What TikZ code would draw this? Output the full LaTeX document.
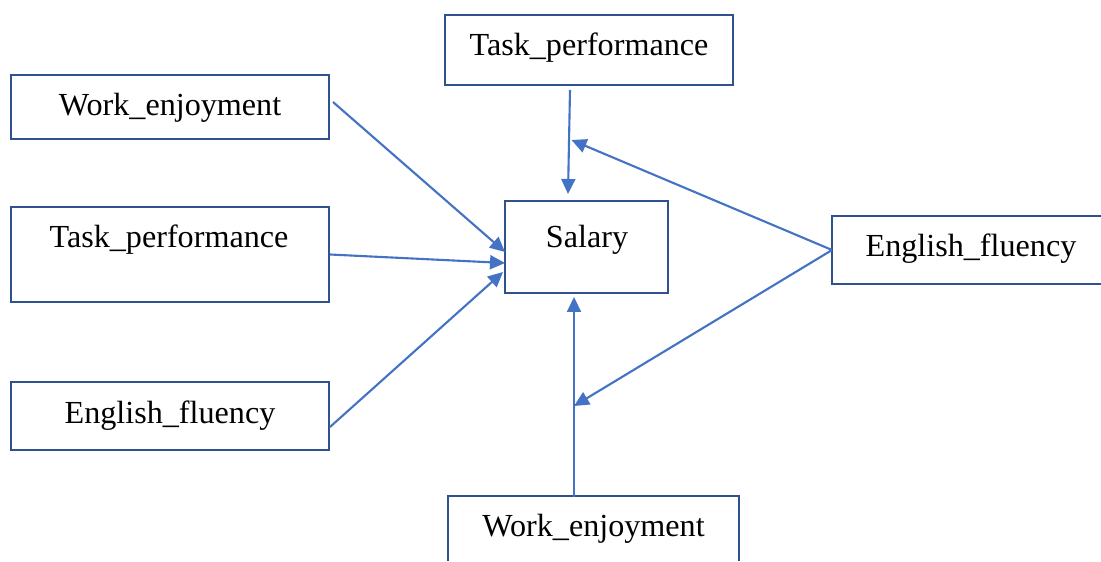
\documentclass[tikz,border=0pt]{standalone}
\usepackage{fontspec}
\setmainfont{Liberation Serif}
\usetikzlibrary{calc,arrows.meta}
\definecolor{boxblue}{HTML}{2F528F}
\definecolor{arrblue}{HTML}{4472C4}
\tikzset{
  varbox/.style={draw=boxblue, line width=1.5pt, rectangle, inner sep=0pt, outer sep=0pt, fill=none},
  cutbox/.style={draw=none, rectangle, inner sep=0pt, outer sep=0pt},
  boxline/.style={draw=boxblue, line width=1.5pt, line join=miter},
  lbl/.style={anchor=base, inner sep=0pt, font=\fontsize{18.3}{21}\selectfont},
  arr/.style={draw=arrblue, line width=1.2pt, -{Triangle[length=0.3cm,width=0.28cm]}},
}
\begin{document}
\begin{tikzpicture}[x=0.02cm,y=-0.02cm]
\useasboundingbox (0,0) rectangle (1101,561);
\clip (0,0) rectangle (1101,561);
\fill[white] (0,0) rectangle (1101,561);
% boxes
\node[varbox, minimum width=6.36cm, minimum height=1.28cm] (wl) at (170,107) {};
\node[varbox, minimum width=6.36cm, minimum height=1.9cm] (tl) at (170,254.5) {};
\node[varbox, minimum width=6.36cm, minimum height=1.36cm] (el) at (170,416) {};
\node[varbox, minimum width=3.26cm, minimum height=1.84cm] (sal) at (586.5,247) {};
\node[varbox, minimum width=5.76cm, minimum height=1.4cm] (tt) at (589,50) {};
% boxes cut by the picture's edge (open side)
\node[cutbox, minimum width=5.38cm, minimum height=1.36cm] (er) at (966.5,250) {};
\draw[boxline] (er.north east) -- (er.north west) -- (er.south west) -- (er.south east);
\node[cutbox, minimum width=5.82cm, minimum height=1.3cm] (wb) at (593.5,528.5) {};
\draw[boxline] (wb.south west) -- (wb.north west) -- (wb.north east) -- (wb.south east);
% labels
\node[lbl] (wlt) at (170,115) {Work\_enjoyment};
\node[lbl] (tlt) at (169,247) {Task\_performance};
\node[lbl] (elt) at (170,423) {English\_fluency};
\node[lbl] (salt) at (587,247) {Salary};
\node[lbl] (ttt) at (589,55) {Task\_performance};
\node[lbl] (ert) at (971,256) {English\_fluency};
\node[lbl] (wbt) at (593.5,536) {Work\_enjoyment};
% junction points
\coordinate (jt) at (571.5,140);
\coordinate (jb) at (574,406);
% connectors
\draw[arr] ($(wl.east)+(4,-5)$) -- ($(sal.west)+(0,5)$);
\draw[arr] ($(tl.east)+(1,0)$) -- ($(sal.west)+(0,16)$);
\draw[arr] ($(el.east)+(1,11)$) -- ($(sal.west)+(-2,25)$);
\draw[arr] ($(tt.south)+(-19,5)$) -- ($(sal.north)+(-18.5,-7)$);
\draw[arr] (er.west) -- (jt);
\draw[arr] (er.west) -- (jb);
\draw[arr] ($(wb.north)+(-19.5,1)$) -- ($(sal.south)+(-12.5,4)$);
\end{tikzpicture}
\end{document}
